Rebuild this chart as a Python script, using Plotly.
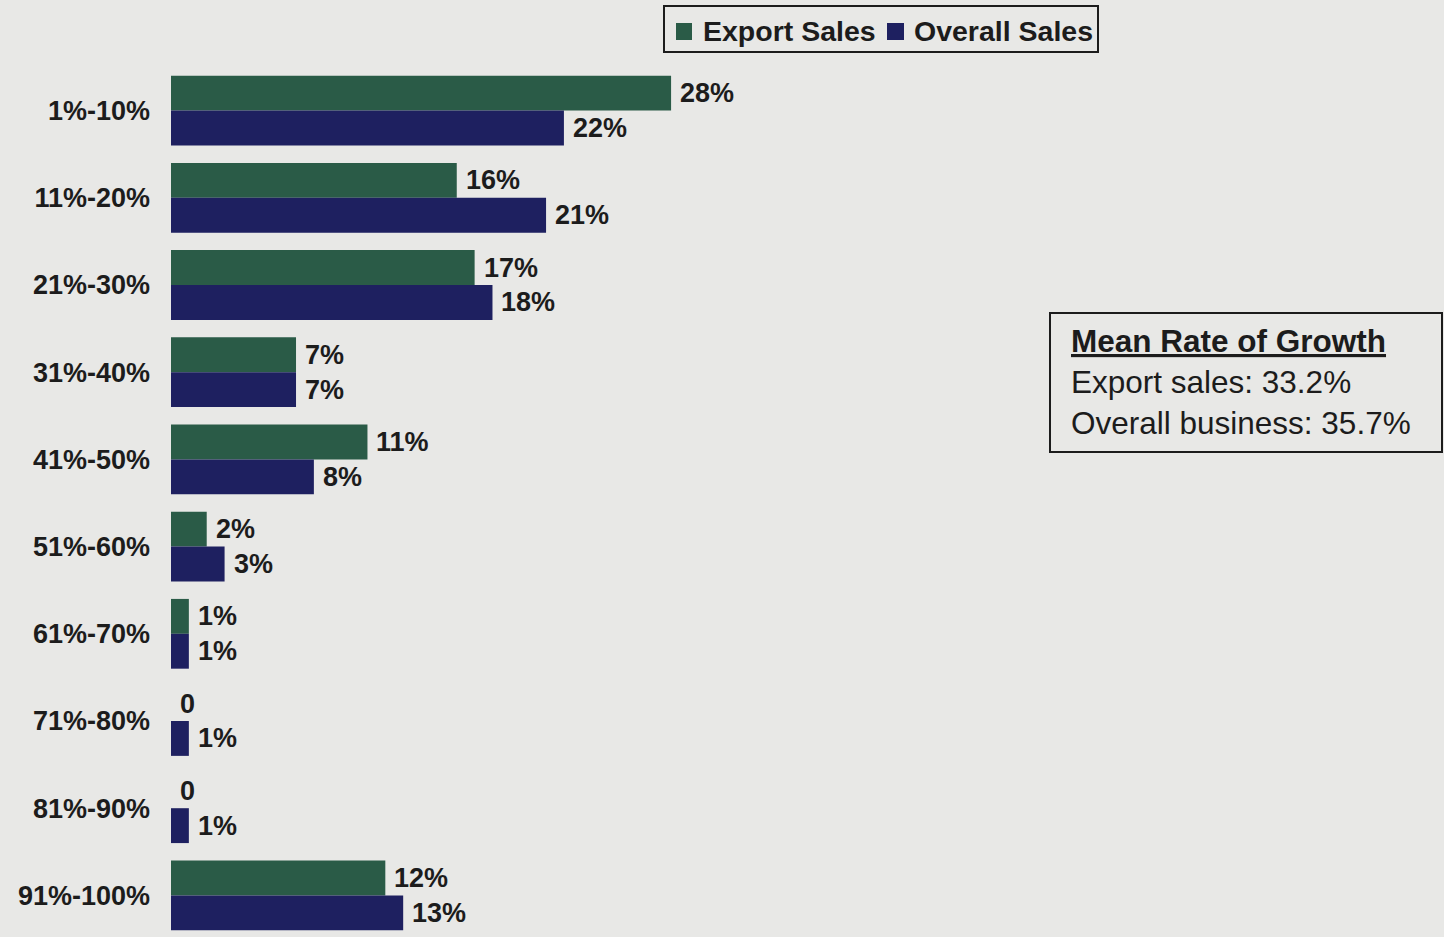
import plotly.graph_objects as go

# Growth-rate bands and share of respondents (%) in each band
categories = ["1%-10%", "11%-20%", "21%-30%", "31%-40%", "41%-50%",
              "51%-60%", "61%-70%", "71%-80%", "81%-90%", "91%-100%"]
export_sales = [28, 16, 17, 7, 11, 2, 1, 0, 0, 12]
overall_sales = [22, 21, 18, 7, 8, 3, 1, 1, 1, 13]
series_names = ["Export Sales", "Overall Sales"]

mean_title = "Mean Rate of Growth"
mean_lines = ["Export sales: 33.2%", "Overall business: 35.7%"]

GREEN = "#2a5b47"
NAVY = "#1e2060"
BG = "#e8e8e6"
INK = "#1c1c1c"
FONT = "Liberation Sans, Arial, sans-serif"

# page geometry: plot area starts at 171px from the left, 67px from the top
W, H, L, T = 1444, 937, 171, 67
PW, PH = W - L, H - T


def px_x(p):
    return (p - L) / PW


def px_y(p):
    return (H - p) / PH


def label(v):
    return f"{v}%" if v else "0"


idx = list(range(len(categories)))

fig = go.Figure()
fig.add_trace(go.Bar(y=idx, x=export_sales, orientation="h", name=series_names[0],
                     marker=dict(color=GREEN, line=dict(width=0)), showlegend=False))
fig.add_trace(go.Bar(y=idx, x=overall_sales, orientation="h", name=series_names[1],
                     marker=dict(color=NAVY, line=dict(width=0)), showlegend=False))

annotations = []
for off, vals in ((-0.2, export_sales), (0.2, overall_sales)):
    for i, v in enumerate(vals):
        annotations.append(dict(
            x=v, y=i + off, xref="x", yref="y", text=label(v),
            xanchor="left", yanchor="middle", xshift=7, showarrow=False,
            font=dict(family=FONT, size=27, color=INK, weight="bold")))

# summary box text
annotations.append(dict(
    x=px_x(1069), y=px_y(382), xref="paper", yref="paper",
    xanchor="left", yanchor="middle", align="left", showarrow=False,
    text=f"<b><u>{mean_title}</u></b><br>" + "<br>".join(mean_lines),
    font=dict(family=FONT, size=31.5, color=INK)))

# legend: framed box with colour swatches and bold labels
shapes = [
    dict(type="rect", xref="paper", yref="paper",
         x0=px_x(664), x1=px_x(1098), y0=px_y(6), y1=px_y(52),
         line=dict(color=INK, width=2), fillcolor=BG, layer="below"),
    dict(type="rect", xref="paper", yref="paper",
         x0=px_x(676), x1=px_x(692), y0=px_y(23), y1=px_y(40),
         line=dict(width=0), fillcolor=GREEN),
    dict(type="rect", xref="paper", yref="paper",
         x0=px_x(887), x1=px_x(904), y0=px_y(23), y1=px_y(40),
         line=dict(width=0), fillcolor=NAVY),
    dict(type="rect", xref="paper", yref="paper",
         x0=px_x(1050), x1=px_x(1442), y0=px_y(313), y1=px_y(452),
         line=dict(color=INK, width=2), fillcolor="rgba(0,0,0,0)"),
]
for name, xl in zip(series_names, (701, 912)):
    annotations.append(dict(
        x=px_x(xl), y=px_y(31), xref="paper", yref="paper",
        xanchor="left", yanchor="middle", showarrow=False, text=name,
        font=dict(family=FONT, size=28.5, color=INK, weight="bold")))

fig.update_layout(
    width=W, height=H,
    margin=dict(l=L, r=0, t=T, b=0),
    paper_bgcolor=BG, plot_bgcolor=BG,
    barmode="group", bargap=0.2, bargroupgap=0,
    showlegend=False,
    xaxis=dict(range=[0, PW / 17.86], visible=False, fixedrange=True),
    yaxis=dict(range=[-0.5 + PH / 87.2, -0.5], tickvals=idx, ticktext=categories,
               showgrid=False, zeroline=False, showline=False, ticks="",
               ticklabelstandoff=20,
               tickfont=dict(family=FONT, size=27, color=INK, weight="bold")),
    shapes=shapes,
    annotations=annotations,
)

fig.write_html("out.html")
